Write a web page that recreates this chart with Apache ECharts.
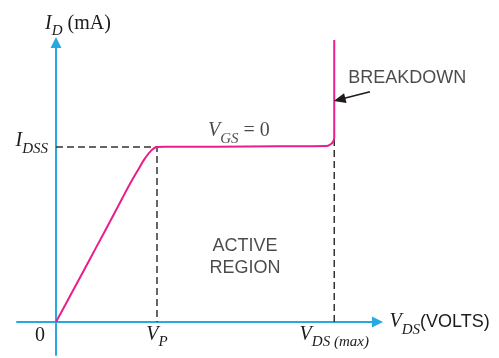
<!DOCTYPE html>
<html>
<head>
<meta charset="utf-8">
<script src="https://cdn.jsdelivr.net/npm/echarts@6/dist/echarts.min.js"></script>
<style>
  html, body { margin: 0; padding: 0; background: #ffffff; }
  #chart { width: 499px; height: 358px; }
</style>
</head>
<body>
<div id="chart"></div>
<script>
// JFET drain characteristic for V_GS = 0 (normalised units: V_P = 1, I_DSS = 1)
const vds = [0, 0.139, 0.27, 0.403, 0.535, 0.65, 0.733, 0.815, 0.881, 0.947, 1.0, 1.1, 1.6, 2.2, 2.68, 2.723, 2.747, 2.755, 2.755];
const idCurve = [0, 0.148, 0.289, 0.432, 0.574, 0.70, 0.79, 0.872, 0.935, 0.982, 1.0, 1.001, 1.002, 1.004, 1.006, 1.017, 1.034, 1.057, 1.611];

// key levels
const vP = 1.0;
const vDSmax = 2.755;
const iDSS = 1.0;
const vDSmaxGuideTop = 1.07;

// axis ticks and their labels
const xTickValues = [0, vP, vDSmax];
const xTickLabels = ['{zero|0}', '{i|V}{s|P}', '{i|V}{s|DS (max)}'];
const yTickValues = [iDSS];
const yTickLabels = ['{i|I}{s|DSS}'];

// annotations: [x, y, text]
const curveNote = [1.505, 1.091, '{i|V}{s|GS}{r| = 0}'];
const regionNote = [1.871, 0.371, 'ACTIVE\nREGION'];
const breakdownNote = [2.894, 1.393, 'BREAKDOWN'];
const breakdownArrowFrom = [3.109, 1.316];
const breakdownArrowTo = [2.807, 1.271];

const AXIS = '#27aae1';
const CURVE = '#e91e8c';
const INK = '#1f1b1c';
const SERIF = 'Liberation Serif';
const SANS = 'Liberation Sans';

const mathRich = {
  i: { fontFamily: SERIF, fontStyle: 'italic', fontSize: 20, lineHeight: 22, color: INK },
  s: { fontFamily: SERIF, fontStyle: 'italic', fontSize: 15, lineHeight: 15, padding: [16, 0, 0, 0], color: INK },
  r: { fontFamily: SERIF, fontSize: 20, lineHeight: 22, color: INK },
  t: { fontFamily: SANS, fontSize: 18, lineHeight: 22, color: INK },
  zero: { fontFamily: SERIF, fontSize: 20, lineHeight: 22, padding: [3, 32, 0, 0], color: INK }
};

const chart = echarts.init(document.getElementById('chart'), null, { renderer: 'canvas' });

// grid edges sit at the far ends of the axis lines; tick labels are pulled
// back to the axis lines that cross at the origin
chart.setOption({
  animation: false,
  backgroundColor: '#ffffff',
  grid: {
    left: 17, right: 121.5, top: 42.5, bottom: 3,
    outerBoundsMode: 'none'
  },
  xAxis: {
    type: 'value',
    min: -0.3861, max: 3.1832,
    splitLine: { show: false },
    axisTick: { show: false },
    axisLine: {
      onZero: true,
      symbol: ['none', 'triangle'],
      symbolSize: [11, 11],
      lineStyle: { color: AXIS, width: 2 }
    },
    axisLabel: {
      customValues: xTickValues,
      margin: -31.5,
      formatter: function (v) {
        const k = xTickValues.indexOf(v);
        return k >= 0 ? xTickLabels[k] : '';
      },
      rich: mathRich
    },
    name: '{i|V}{s|DS}{t|(VOLTS)}',
    nameLocation: 'end',
    nameGap: 12,
    nameTextStyle: { rich: mathRich }
  },
  yAxis: {
    type: 'value',
    min: -0.1886, max: 1.5971,
    splitLine: { show: false },
    axisTick: { show: false },
    axisLine: {
      onZero: true,
      symbol: ['none', 'triangle'],
      symbolSize: [11, 11],
      lineStyle: { color: AXIS, width: 2 }
    },
    axisLabel: {
      customValues: yTickValues,
      margin: -31,
      padding: [0, 0, 12, 0],
      formatter: function (v) {
        const k = yTickValues.indexOf(v);
        return k >= 0 ? yTickLabels[k] : '';
      },
      rich: mathRich
    },
    name: '{i|I}{s|D}{r| (mA)}',
    nameLocation: 'end',
    nameGap: 8,
    nameTextStyle: { padding: [0, 0, 0, 44], rich: mathRich }
  },
  series: [
    {
      name: 'guides',
      type: 'line',
      silent: true,
      symbol: 'none',
      lineStyle: { color: '#333333', width: 1.5, type: [7, 4] },
      data: [[0, iDSS], [vP, iDSS], [vP, 0]],
      z: 1
    },
    {
      name: 'guideMax',
      type: 'line',
      silent: true,
      symbol: 'none',
      lineStyle: { color: '#333333', width: 1.5, type: [7, 4] },
      data: [[vDSmax, 0], [vDSmax, vDSmaxGuideTop]],
      z: 1
    },
    {
      name: 'ID',
      type: 'line',
      silent: true,
      symbol: 'none',
      smooth: 0.4,
      clip: false,
      lineStyle: { color: CURVE, width: 2 },
      data: vds.map(function (x, k) { return [x, idCurve[k]]; }),
      z: 3
    },
    {
      name: 'notes',
      type: 'scatter',
      silent: true,
      symbolSize: 0,
      data: [
        { value: curveNote.slice(0, 2),
          label: { show: true, formatter: curveNote[2], position: [0, 0], align: 'left', verticalAlign: 'middle', rich: mathRich } },
        { value: regionNote.slice(0, 2),
          label: { show: true, formatter: regionNote[2], position: [0, 0], align: 'center', verticalAlign: 'middle',
                   fontFamily: SANS, fontSize: 18, lineHeight: 22, color: INK } },
        { value: breakdownNote.slice(0, 2),
          label: { show: true, formatter: breakdownNote[2], position: [0, 0], align: 'left', verticalAlign: 'middle',
                   fontFamily: SANS, fontSize: 18, color: INK } }
      ],
      markLine: {
        silent: true,
        symbol: ['none', 'triangle'],
        symbolSize: [10, 12],
        label: { show: false },
        lineStyle: { color: INK, width: 1.5, type: 'solid' },
        data: [[{ coord: breakdownArrowFrom }, { coord: breakdownArrowTo }]]
      },
      z: 4
    }
  ]
});
</script>
</body>
</html>
